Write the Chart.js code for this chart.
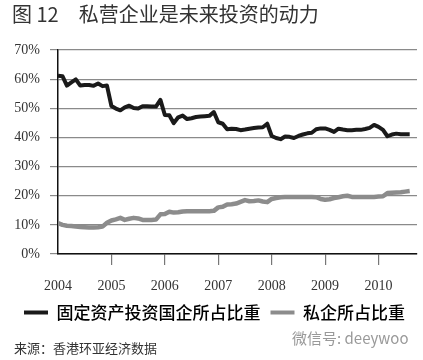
<!DOCTYPE html>
<html>
<head>
<meta charset="utf-8">
<script src="https://cdn.jsdelivr.net/npm/chart.js@4.4.0/dist/chart.umd.min.js"></script>
<style>
body { margin: 0; background: #fff; }
#wrap { position: relative; width: 423px; height: 360px; }
.note { position: absolute; font-family: "Noto Sans CJK SC"; white-space: nowrap; }
</style>
</head>
<body>
<div id="wrap">
  <canvas id="line-chart"></canvas>
  <div class="note" style="left:14px;top:338px;font-size:13px;color:#333">来源：香港环亚经济数据</div>
  <div class="note" style="left:292px;top:327px;font-size:15px;color:#999">微信号: deeywoo</div>
</div>
<script>
// monthly data, Jan 2004 .. Aug 2010
const startYear = 2004;
const yearTicks = ['2004', '2005', '2006', '2007', '2008', '2009', '2010'];
const seriesNames = ['固定资产投资国企所占比重', '私企所占比重'];

const stateShare = [
  61.2, 61.0, 57.8, 58.9, 59.9, 57.8, 58.0, 58.0, 57.7, 58.5, 57.6, 57.8,
  50.8, 49.9, 49.3, 50.3, 50.9, 50.1, 49.9, 50.7, 50.7, 50.6, 50.6, 52.9,
  47.7, 47.6, 44.9, 46.9, 47.5, 46.3, 46.6, 47.0, 47.2, 47.3, 47.4, 48.7,
  45.2, 44.7, 42.8, 43.0, 42.9, 42.5, 42.7, 43.0, 43.2, 43.4, 43.5, 44.7,
  40.5, 39.8, 39.4, 40.3, 40.2, 39.8, 40.5, 41.0, 41.4, 41.6, 42.8, 43.1,
  43.1, 42.6, 41.9, 43.0, 42.7, 42.5, 42.5, 42.6, 42.6, 42.9, 43.3, 44.3,
  43.6, 42.6, 40.4, 41.0, 41.3, 41.1, 41.1, 41.1
];
const privateShare = [
  10.6, 10.0, 9.7, 9.6, 9.4, 9.3, 9.2, 9.1, 9.1, 9.2, 9.4, 10.7,
  11.5, 11.9, 12.4, 11.7, 12.1, 12.4, 12.2, 11.7, 11.7, 11.7, 11.8, 13.6,
  13.7, 14.5, 14.2, 14.3, 14.6, 14.7, 14.7, 14.7, 14.7, 14.7, 14.7, 14.8,
  16.0, 16.2, 17.0, 17.1, 17.3, 17.9, 18.5, 18.1, 18.2, 18.4, 18.0, 17.8,
  18.9, 19.2, 19.5, 19.6, 19.6, 19.6, 19.6, 19.6, 19.6, 19.6, 19.5, 18.9,
  18.6, 18.8, 19.2, 19.5, 19.8, 20.0, 19.6, 19.6, 19.6, 19.6, 19.6, 19.6,
  19.7, 19.8, 20.9, 21.0, 21.1, 21.2, 21.4, 21.6
];
const colors = ['#1a1a1a', '#8c8c8c'];

const toPoints = vals => vals.map((v, i) => ({ x: startYear + i / 12, y: v }));

const serif = 'Liberation Serif';
const cjk = 'Noto Sans CJK SC';

const ctx = document.getElementById('line-chart').getContext('2d');
const myChart = new Chart(ctx, {
  type: 'line',
  data: {
    datasets: [{
      label: seriesNames[0],
      data: toPoints(stateShare),
      borderColor: colors[0],
      backgroundColor: colors[0],
      borderWidth: 4
    }, {
      label: seriesNames[1],
      data: toPoints(privateShare),
      borderColor: colors[1],
      backgroundColor: colors[1],
      borderWidth: 4.5
    }]
  },
  options: {
    responsive: true,
    maintainAspectRatio: false,
    animation: false,
    elements: { point: { radius: 0 }, line: { tension: 0, borderJoinStyle: 'round' } },
    layout: { padding: { left: 12, right: 6, top: 0, bottom: 29 } },
    plugins: {
      title: {
        display: true,
        text: '图 12\u3000私营企业是未来投资的动力',
        align: 'start',
        color: '#333',
        font: { family: cjk, size: 20, weight: 'normal' },
        padding: { top: 2, bottom: 24 }
      },
      legend: {
        position: 'bottom',
        labels: {
          boxWidth: 24,
          boxHeight: 4,
          padding: 10,
          color: '#222',
          font: { family: cjk, size: 17, weight: '500' },
          generateLabels: chart => chart.data.datasets.map((d, i) => ({
            text: d.label, fillStyle: colors[i], strokeStyle: colors[i],
            lineWidth: 0, hidden: false, datasetIndex: i
          }))
        }
      },
      tooltip: { enabled: false }
    },
    scales: {
      x: {
        type: 'linear',
        min: 2004,
        max: 2010.72,
        afterFit: s => { s.height = 40; },
        grid: {
          drawOnChartArea: false,
          tickLength: 11,
          lineWidth: 1.2,
          color: c => (c.tick && c.tick.value === 2004) ? 'rgba(0,0,0,0)' : '#777'
        },
        border: { color: '#111', width: 1.5 },
        ticks: {
          stepSize: 1,
          includeBounds: false,
          autoSkip: false,
          maxRotation: 0,
          padding: 13,
          color: '#333',
          font: { family: serif, size: 14 },
          callback: v => yearTicks[v - startYear] || ''
        }
      },
      y: {
        min: 0,
        max: 70,
        afterFit: s => { s.width = 46; },
        grid: { color: '#8a8a8a', lineWidth: 1.2, tickLength: 8 },
        border: { color: '#111', width: 1.5 },
        ticks: {
          stepSize: 10,
          padding: 10,
          color: '#333',
          font: { family: serif, size: 14 },
          callback: v => v + '%'
        }
      }
    }
  }
});
</script>
</body>
</html>
